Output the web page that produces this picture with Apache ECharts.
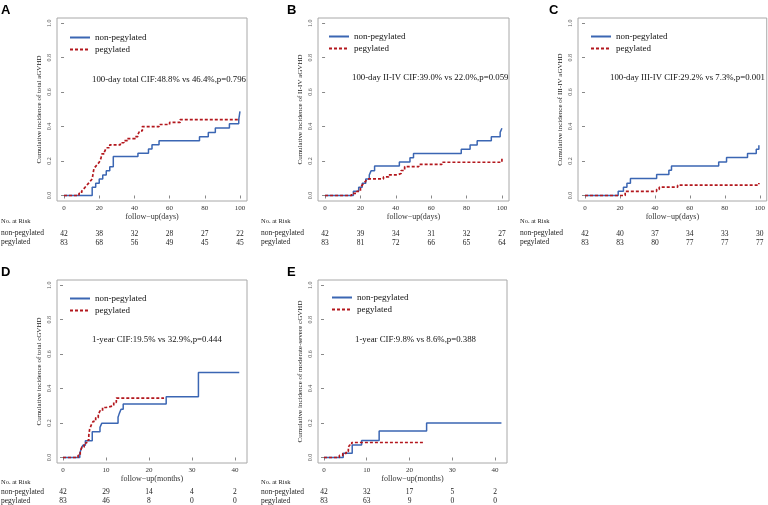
<!DOCTYPE html>
<html>
<head>
<meta charset="utf-8">
<script src="https://cdn.jsdelivr.net/npm/echarts@6/dist/echarts.min.js"></script>
<style>html,body{margin:0;padding:0;background:#fff}#c{width:768px;height:505px}</style>
</head>
<body>
<div id="c"></div>
<script>
// ---------- data ----------
const seriesNames = ['non-pegylated', 'pegylated'];
const dayTicks = [0, 20, 40, 60, 80, 100];
const monthTicks = [0, 10, 20, 30, 40];
const yTicks = [0, 0.2, 0.4, 0.6, 0.8, 1.0];

// Panel A: total aGVHD
const aNon = [[0,0],[16,0.048],[18,0.071],[20,0.095],[22,0.119],[24,0.143],[26,0.167],[28,0.226],[42,0.245],[48,0.270],[50,0.294],[54,0.317],[77,0.341],[82,0.366],[86,0.392],[94,0.416],[99.3,0.440],[100,0.488]];
const aPeg = [[0,0],[8.5,0.012],[10,0.024],[11,0.036],[12,0.048],[13,0.060],[14,0.072],[15,0.084],[16,0.096],[17,0.157],[18,0.169],[19,0.181],[20,0.193],[21,0.217],[21.5,0.241],[23,0.253],[24,0.277],[26,0.294],[32,0.306],[34,0.318],[36,0.330],[40.5,0.342],[42,0.354],[43,0.375],[44.5,0.400],[54,0.412],[60,0.424],[66,0.440],[100,0.440]];
const aRiskNon = [42, 38, 32, 28, 27, 22];
const aRiskPeg = [83, 68, 56, 49, 45, 45];

// Panel B: II-IV aGVHD
const bNon = [[0,0],[16,0.024],[19,0.048],[21,0.071],[23,0.095],[25,0.119],[26,0.143],[28,0.171],[42,0.195],[48,0.219],[50,0.244],[77,0.268],[82,0.293],[86,0.317],[94,0.341],[99,0.366],[100,0.390]];
const bPeg = [[0,0],[15,0.012],[18,0.024],[20,0.048],[21,0.060],[22,0.072],[23,0.084],[24,0.096],[33,0.108],[36,0.120],[41,0.128],[43,0.145],[45,0.168],[53,0.180],[66,0.193],[100,0.217]];
const bRiskNon = [42, 39, 34, 31, 32, 27];
const bRiskPeg = [83, 81, 72, 66, 65, 64];

// Panel C: III-IV aGVHD
const cNon = [[0,0],[19,0.024],[22,0.048],[24,0.071],[26,0.098],[41,0.122],[48,0.146],[49.5,0.171],[76.5,0.195],[81,0.220],[93,0.244],[98,0.268],[99.5,0.292]];
const cPeg = [[0,0],[23,0.024],[41,0.036],[42.5,0.048],[53,0.060],[99.5,0.073]];
const cRiskNon = [42, 40, 37, 34, 33, 30];
const cRiskPeg = [83, 83, 80, 77, 77, 77];

// Panel D: total cGVHD (months)
const dNon = [[0,0],[3.9,0.024],[4.2,0.048],[4.6,0.071],[5.2,0.097],[6.8,0.150],[8.6,0.175],[9,0.198],[12.8,0.233],[13.1,0.256],[13.5,0.280],[14,0.310],[24,0.353],[31.5,0.493],[41,0.493]];
const dPeg = [[0,0],[3.5,0.012],[4,0.036],[4.4,0.060],[4.9,0.084],[5.5,0.100],[6,0.130],[6.2,0.165],[6.6,0.190],[7,0.210],[7.6,0.230],[8.2,0.250],[8.6,0.270],[9.2,0.290],[10,0.300],[11.8,0.320],[12.4,0.345],[23.5,0.345]];
const dRiskNon = [42, 29, 14, 4, 2];
const dRiskPeg = [83, 46, 8, 0, 0];

// Panel E: moderate-severe cGVHD (months)
const eNon = [[0,0],[4.5,0.024],[6.6,0.073],[8.8,0.098],[12.9,0.153],[24,0.200],[41.5,0.200]];
const ePeg = [[0,0],[3.6,0.012],[4.4,0.024],[5.2,0.036],[5.7,0.060],[6,0.072],[6.5,0.087],[23.3,0.087]];
const eRiskNon = [42, 32, 17, 5, 2];
const eRiskPeg = [83, 63, 9, 0, 0];

const panelLetters = ['A', 'B', 'C', 'D', 'E'];
const yNames = ['Cumulative incidence of total aGVHD', 'Cumulative incidence of II-IV aGVHD', 'Cumulative incidence of III-IV aGVHD', 'Cumulative incidence of total cGVHD', 'Cumulative incidence of moderate-severe cGVHD'];
const xNames = ['follow\u2212up(days)', 'follow\u2212up(days)', 'follow\u2212up(days)', 'follow\u2212up(months)', 'follow\u2212up(months)'];
const notes = ['100-day total CIF:48.8% vs 46.4%,p=0.796', '100-day II-IV CIF:39.0% vs 22.0%,p=0.059', '100-day III-IV CIF:29.2% vs 7.3%,p=0.001', '1-year CIF:19.5% vs 32.9%,p=0.444', '1-year CIF:9.8% vs 8.6%,p=0.388'];
const riskTitle = 'No. at Risk';

// ---------- layout ----------
const SERIF = '"Liberation Serif", "Times New Roman", serif';
const BLUE = '#3b66b3', RED = '#b3171d';
const panels = [
  {grid:{left:57,top:18,width:190,height:183}, xMin:-4, xMax:104, ticks:dayTicks, non:aNon, peg:aPeg, rn:aRiskNon, rp:aRiskPeg, note:[92,80], leg:[64,28], letter:[1,4], rowX:1, riskY:[221,233,242], off:[29,38]},
  {grid:{left:318,top:18,width:191,height:183}, xMin:-4, xMax:104, ticks:dayTicks, non:bNon, peg:bPeg, rn:bRiskNon, rp:bRiskPeg, note:[352,78], leg:[323,27], letter:[287,4], rowX:261, riskY:[221,233,242], off:[29,38]},
  {grid:{left:578,top:18,width:189,height:183}, xMin:-4, xMax:104, ticks:dayTicks, non:cNon, peg:cPeg, rn:cRiskNon, rp:cRiskPeg, note:[610,78], leg:[585,27], letter:[549,4], rowX:520, riskY:[221,233,242], off:[29,38]},
  {grid:{left:57,top:280,width:190,height:183}, xMin:-1.4, xMax:42.8, ticks:monthTicks, non:dNon, peg:dPeg, rn:dRiskNon, rp:dRiskPeg, note:[92,340], leg:[64,289], letter:[1,266], rowX:1, riskY:[482,492,501], off:[25,34]},
  {grid:{left:318,top:280,width:189,height:183}, xMin:-1.4, xMax:42.8, ticks:monthTicks, non:eNon, peg:ePeg, rn:eRiskNon, rp:eRiskPeg, note:[355,340], leg:[326,288], letter:[287,266], rowX:261, riskY:[482,492,501], off:[25,34]}
];

const grids = [], xAxes = [], yAxes = [], series = [], legends = [], graphics = [];
panels.forEach((p, i) => {
  grids.push(Object.assign({show:true, borderColor:'#a8a8a8', borderWidth:1, backgroundColor:'transparent'}, p.grid));
  xAxes.push({
    type:'value', gridIndex:i, min:p.xMin, max:p.xMax, position:'bottom',
    axisLine:{show:false}, splitLine:{show:false},
    axisTick:{show:true, customValues:p.ticks, length:3, lineStyle:{color:'#888'}},
    axisLabel:{customValues:p.ticks, margin:4, fontSize:7, color:'#333', fontFamily:SERIF},
    name:xNames[i], nameLocation:'middle', nameGap:11,
    nameTextStyle:{fontSize:8, color:'#333', fontFamily:SERIF}
  });
  [p.rn, p.rp].forEach((arr, k) => {
    xAxes.push({
      type:'value', gridIndex:i, min:p.xMin, max:p.xMax, position:'bottom', offset:p.off[k],
      axisLine:{show:false}, axisTick:{show:false}, splitLine:{show:false},
      axisLabel:{customValues:p.ticks, margin:0, fontSize:7.5, color:'#222', fontFamily:SERIF,
        formatter:(v) => String(arr[p.ticks.indexOf(v)])}
    });
  });
  yAxes.push({
    type:'value', gridIndex:i, min:-0.032, max:1.03,
    axisLine:{show:false}, splitLine:{show:false},
    axisTick:{show:true, customValues:yTicks, length:3, lineStyle:{color:'#888'}},
    axisLabel:{customValues:yTicks, rotate:90, margin:5, fontSize:6, color:'#555', fontFamily:SERIF,
      formatter:(v) => v.toFixed(1)},
    name:yNames[i], nameLocation:'middle', nameGap:14, nameRotate:90,
    nameTextStyle:{fontSize:7, color:'#222', fontFamily:SERIF}
  });
  const xi = i * 3;
  series.push({name:seriesNames[0], type:'line', step:'end', xAxisIndex:xi, yAxisIndex:i, data:p.non,
    symbol:'none', lineStyle:{color:BLUE, width:1.5}, itemStyle:{color:BLUE}, z:3});
  series.push({name:seriesNames[1], type:'line', step:'end', xAxisIndex:xi, yAxisIndex:i, data:p.peg,
    symbol:'none', lineStyle:{color:RED, width:1.7, type:[3,2]}, itemStyle:{color:RED}, z:4});
  legends.push({left:p.leg[0], top:p.leg[1], orient:'vertical', itemWidth:20, itemHeight:8, itemGap:3,
    selectedMode:false, data:seriesNames, itemStyle:{opacity:0},
    textStyle:{fontSize:9, color:'#111', fontFamily:SERIF}});
  graphics.push({type:'text', left:p.letter[0], top:p.letter[1],
    style:{text:panelLetters[i], font:'bold 13px "Liberation Sans", Arial, sans-serif', fill:'#000'}});
  graphics.push({type:'text', x:p.note[0], y:p.note[1],
    style:{text:notes[i], font:'8.8px ' + SERIF, fill:'#111', verticalAlign:'middle'}});
  graphics.push({type:'text', x:p.rowX, y:p.riskY[0],
    style:{text:riskTitle, font:'6.5px ' + SERIF, fill:'#222', verticalAlign:'middle'}});
  graphics.push({type:'text', x:p.rowX, y:p.riskY[1],
    style:{text:seriesNames[0], font:'7.5px ' + SERIF, fill:'#222', verticalAlign:'middle'}});
  graphics.push({type:'text', x:p.rowX, y:p.riskY[2],
    style:{text:seriesNames[1], font:'7.5px ' + SERIF, fill:'#222', verticalAlign:'middle'}});
});

const chart = echarts.init(document.getElementById('c'), null, {renderer:'canvas'});
chart.setOption({
  backgroundColor:'#fff',
  animation:false,
  textStyle:{fontFamily:SERIF},
  grid:grids, xAxis:xAxes, yAxis:yAxes, series:series, legend:legends, graphic:graphics
});
</script>
</body>
</html>
